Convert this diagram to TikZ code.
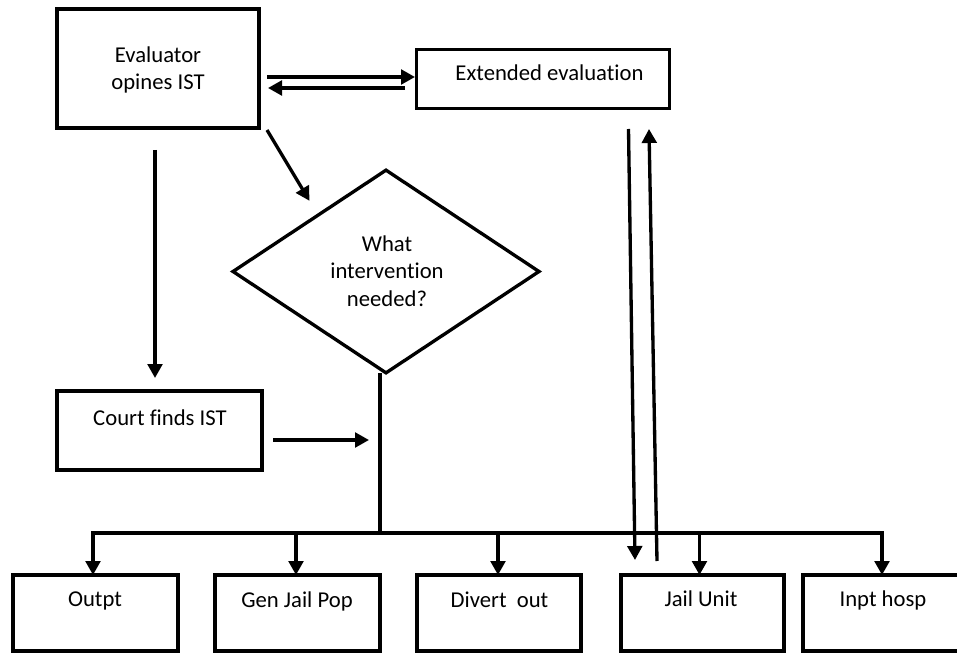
\documentclass[tikz,border=0pt]{standalone}
\usepackage{fontspec}
\setmainfont[Ligatures={NoCommon}]{Carlito}
\usetikzlibrary{arrows.meta,shapes.geometric,fit,calc}
\begin{document}
\begin{tikzpicture}[x=0.75pt,y=-0.75pt,
  box/.style={draw=black,line width=3.2pt,inner sep=0pt,outer sep=0pt},
  thinbox/.style={draw=black,line width=2.5pt,inner sep=0pt,outer sep=0pt},
  lbl/.style={inner sep=0pt,outer sep=0pt,anchor=base,align=center,
    font=\fontsize{17pt}{20.3pt}\selectfont},
  conn/.style={line width=2.5pt,draw=black},
  arr/.style={conn,-{Triangle[length=10.5pt,width=11pt]}}]
\useasboundingbox (0,0) rectangle (957,656);
% boxes
\node[box,fit={(57,9) (259,128)}] (eval) {};
\node[thinbox,fit={(416.5,49.5) (669.5,108.5)}] (ext) {};
\node[box,fit={(57,391) (262,470)}] (court) {};
\node[draw=black,line width=2.5pt,diamond,inner sep=0pt,outer sep=0pt,
  minimum width=229.5pt,minimum height=152pt] (dec) at (386,271.5) {};
\node[box,fit={(13,575) (178,651)}] (b1) {};
\node[box,fit={(215,575) (380,651)}] (b2) {};
\node[box,fit={(417,575) (581,651)}] (b3) {};
\node[box,fit={(621,575) (784,651)}] (b4) {};
\node[box,fit={(803,575) (961,651)}] (b5) {};
% labels
\node[lbl] (teval) at (158,90) {Evaluator\\opines IST};
\node[lbl] (text) at (549.5,81) {Extended evaluation};
\node[lbl] (tdec) at (387,306) {What\\intervention\\needed?};
\node[lbl] (tcourt) at (160,425) {Court finds IST};
\node[lbl] (tb1) at (95,606) {Outpt};
\node[lbl] (tb2) at (297,607) {Gen Jail Pop};
\node[lbl] (tb3) at (499.5,607) {Divert\ \ out};
\node[lbl] (tb4) at (701,606) {Jail Unit};
\node[lbl] (tb5) at (883,606) {Inpt hosp};
% connectors
\coordinate (stem) at (380,533);
\draw[arr] ($(eval.east)+(8,8.5)$) -- ($(ext.west)+(-1.5,-2)$);
\draw[arr] ($(ext.west)+(-11.5,9)$) -- ($(eval.east)+(9,19.5)$);
\draw[arr] ($(eval.south east)+(8,2)$) -- ($(dec.north west)+(0,-20)$);
\draw[arr] ($(eval.south)+(-3,22)$) -- ($(court.north)+(-4.5,-13)$);
\draw[arr] ($(court.east)+(11,9.5)$) -- ($(court.east -| stem)+(-11,9.5)$);
\draw[conn] (dec.south -| stem) -- (stem);
\draw[arr] (stem) -| ($(b1.north)+(-2.5,0)$);
\draw[arr] (stem) -| ($(b2.north)+(-1.5,0)$);
\draw[arr] (stem) -| ($(b3.north)+(-1,0)$);
\draw[arr] (stem) -| ($(b4.north)+(-3,0)$);
\draw[arr] (stem) -| (b5.north);
\draw[arr] ($(ext.south east)+(-41,20.5)$) -- ($(b4.north west)+(14,-15)$);
\draw[arr] ($(b4.north west)+(36,-14)$) -- ($(ext.south east)+(-20.5,20.5)$);
\end{tikzpicture}
\end{document}
